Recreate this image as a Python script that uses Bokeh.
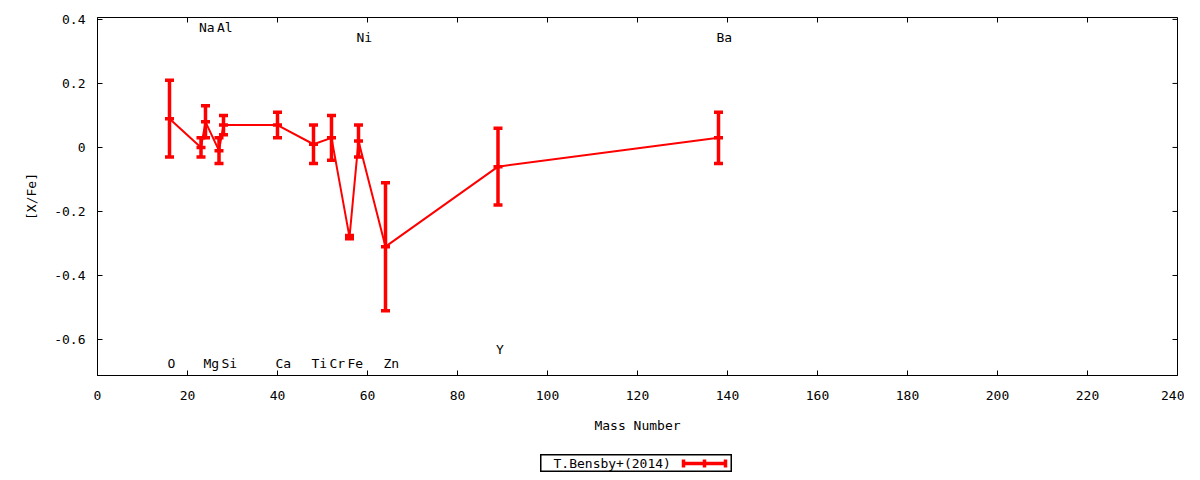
import math
from bokeh.plotting import figure
from bokeh.models import (Range1d, FixedTicker, CustomJSTickFormatter,
                          ColumnDataSource, Spacer)
from bokeh.layouts import column, row
from bokeh.embed import file_html
from bokeh.resources import INLINE
from bokeh.core.properties import value

# ---- data ----
elements = ["O", "Na", "Mg", "Al", "Si", "Ca", "Ti", "Cr", "Fe", "Ni", "Zn", "Y", "Ba"]
mass = [16, 23, 24, 27, 28, 40, 48, 52, 56, 58, 64, 89, 138]
x_fe = [0.09, 0.00, 0.08, -0.01, 0.07, 0.07, 0.01, 0.03, -0.28, 0.02, -0.31, -0.06, 0.03]
err = [0.12, 0.03, 0.05, 0.04, 0.03, 0.04, 0.06, 0.07, 0.005, 0.05, 0.20, 0.12, 0.08]
label_y = [-0.675, 0.375, -0.675, 0.375, -0.675, -0.675, -0.675, -0.675, -0.675,
           0.344, -0.675, -0.631, 0.344]
x_ticks = [0, 20, 40, 60, 80, 100, 120, 140, 160, 180, 200, 220, 240]
y_ticks = [-0.6, -0.4, -0.2, 0, 0.2, 0.4]
x_min, x_max = 0, 240
y_min, y_max = -0.7125, 0.406
series_name = "T.Bensby+(2014)"

FONT = "DejaVu Sans Mono"
FS = "13px"
RED = "#ff0000"

lo = [v - e for v, e in zip(x_fe, err)]
hi = [v + e for v, e in zip(x_fe, err)]
src = ColumnDataSource(dict(x=mass, y=x_fe, lo=lo, hi=hi, name=elements, ly=label_y))

p = figure(frame_width=1080, frame_height=358, output_backend="svg", toolbar_location=None,
           x_range=Range1d(x_min, x_max), y_range=Range1d(y_min, y_max),
           min_border_left=97, min_border_right=7, min_border_top=17, min_border_bottom=79)
p.grid.visible = False
p.outline_line_color = "black"
p.outline_line_width = 1
p.background_fill_color = "white"
p.border_fill_color = "white"

fmt = CustomJSTickFormatter(code="return String(Number(tick.toFixed(2)));")

for ax in (p.xaxis[0], p.yaxis[0]):
    ax.major_tick_in = 5
    ax.major_tick_out = 0
    ax.minor_tick_line_color = None
    ax.axis_line_color = "black"
    ax.major_label_text_font = FONT
    ax.major_label_text_font_size = FS
    ax.major_label_text_color = "black"
    ax.axis_label_text_font = FONT
    ax.axis_label_text_font_size = FS
    ax.axis_label_text_font_style = "normal"
    ax.axis_label_text_color = "black"
    ax.formatter = fmt

p.xaxis[0].ticker = FixedTicker(ticks=x_ticks)
p.yaxis[0].ticker = FixedTicker(ticks=y_ticks)
p.xaxis[0].axis_label = "Mass Number"
p.yaxis[0].axis_label = "[X/Fe]"
p.xaxis[0].major_label_standoff = 15
p.yaxis[0].major_label_standoff = 12
p.xaxis[0].axis_label_standoff = 15
p.yaxis[0].axis_label_standoff = 12

# mirror ticks on top and right edges (half of each dash is clipped by the frame)
p.scatter(x_ticks, [y_max] * len(x_ticks), marker="dash", angle=math.pi / 2,
          size=10, line_color="black", line_width=1)
p.scatter([x_max] * len(y_ticks), y_ticks, marker="dash",
          size=10, line_color="black", line_width=1)

# data
p.line("x", "y", source=src, line_color=RED, line_width=2)
p.segment(x0="x", y0="lo", x1="x", y1="hi", source=src, line_color=RED, line_width=3.5)
for col in ("lo", "hi", "y"):
    p.scatter("x", col, source=src, marker="dash", size=9, line_color=RED, line_width=3.5)

# element labels
p.text("x", "ly", text="name", source=src, text_font=value(FONT), text_font_size=FS,
       text_align="left", text_baseline="middle", x_offset=-2, text_color="black")

# ---- legend key (gnuplot style: label, then sample with error bar) ----
LW, LH = 192, 18
leg = figure(width=LW, height=LH, output_backend="svg", toolbar_location=None,
             x_range=Range1d(0, LW), y_range=Range1d(0, LH),
             min_border=0, x_axis_type=None, y_axis_type=None)
leg.grid.visible = False
leg.outline_line_color = "black"
leg.outline_line_width = 2
leg.background_fill_color = "white"
leg.border_fill_color = "white"
leg.text([13], [LH / 2], text=[series_name], text_font=value(FONT), text_font_size=FS,
         text_align="left", text_baseline="middle", text_color="black")
sample_x = [143, 164, 185]
leg.line([sample_x[0], sample_x[-1]], [LH / 2, LH / 2], line_color=RED, line_width=3.5)
leg.scatter(sample_x, [LH / 2] * 3, marker="dash", angle=math.pi / 2, size=8,
            line_color=RED, line_width=3.5)

layout = column(p, row(Spacer(width=540, height=LH), leg))

open("out.html", "w").write(file_html(layout, INLINE))
